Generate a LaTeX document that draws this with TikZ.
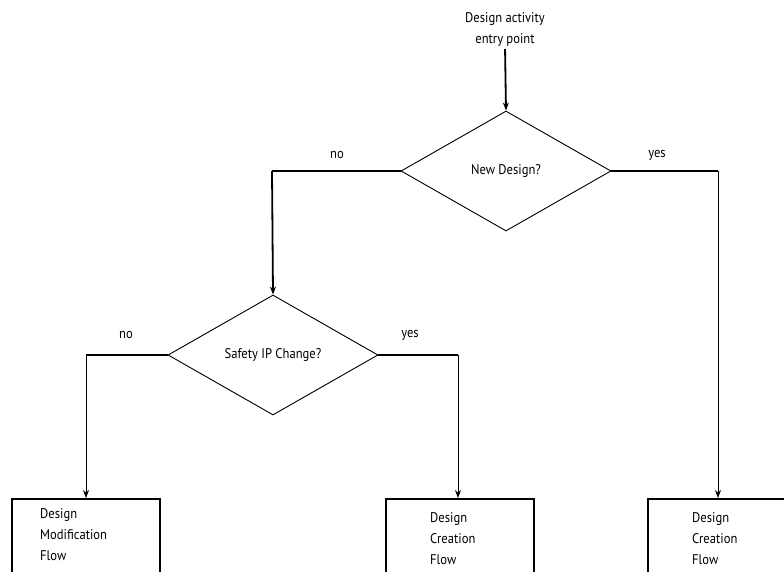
\documentclass[tikz,border=0pt]{standalone}
\usepackage{fontspec}
\setmainfont{PT Sans}[FakeStretch=0.9]
\usetikzlibrary{shapes.geometric,arrows.meta}
\begin{document}
\begin{tikzpicture}[x=1pt,y=-1pt,
  font=\fontsize{14}{21}\selectfont,
  decision/.style={draw,shape=diamond,aspect=1.75,minimum width=210pt,minimum height=120pt,inner sep=0pt,line width=0.9pt},
  flowbox/.style={draw,rectangle,anchor=north west,minimum width=148pt,minimum height=110pt,line width=1.8pt,inner sep=0pt},
  boxtext/.style={anchor=base west,align=left,inner sep=0pt},
  thickline/.style={line width=1.8pt},
  thinline/.style={line width=0.9pt},
  tip/.style={-{Stealth[length=8pt,width=6pt]}},
  lbl/.style={inner sep=0pt}
]
\useasboundingbox (0,0) rectangle (784,571);
\clip (0,0) rectangle (784,571);

\node[align=center,anchor=base,inner sep=0pt] (entry) at (505,43) {Design activity\\entry point};
\node[decision] (d1) at (506,171) {New Design?};
\node[decision] (d2) at (273,355) {Safety IP Change?};

\coordinate (d1l) at (272,171);
\coordinate (d1r) at (718,171);
\coordinate (d2l) at (86,355);
\coordinate (d2r) at (458,355);

\node[flowbox] (b1) at (11,498) {};
\node[flowbox] (b2) at (385,498) {};
\node[flowbox] (b3) at (647,498) {};

\node[boxtext] (t1) at (40,560) {Design\\Modification\\Flow};
\node[boxtext] (t2) at (430,564) {Design\\Creation\\Flow};
\node[boxtext] (t3) at (692,564) {Design\\Creation\\Flow};

\node[lbl] (n1) at (337,155) {no};
\node[lbl] (y1) at (657,155) {yes};
\node[lbl] (n2) at (126,335) {no};
\node[lbl] (y2) at (410,335) {yes};

\draw[thickline,tip,shorten <=3pt] (entry.south) -- (d1.north);
\draw[thickline] (d1.west) -- (d1l);
\draw[thickline,tip] (d1l) -- (d2.north);
\draw[thickline] (d1.east) -- (d1r);
\draw[thinline,tip] (d1r) -- (d1r |- b3.north);
\draw[thickline] (d2.west) -- (d2l);
\draw[thinline,tip] (d2l) -- (d2l |- b1.north);
\draw[thickline] (d2.east) -- (d2r);
\draw[thinline,tip] (d2r) -- (d2r |- b2.north);
\end{tikzpicture}
\end{document}
